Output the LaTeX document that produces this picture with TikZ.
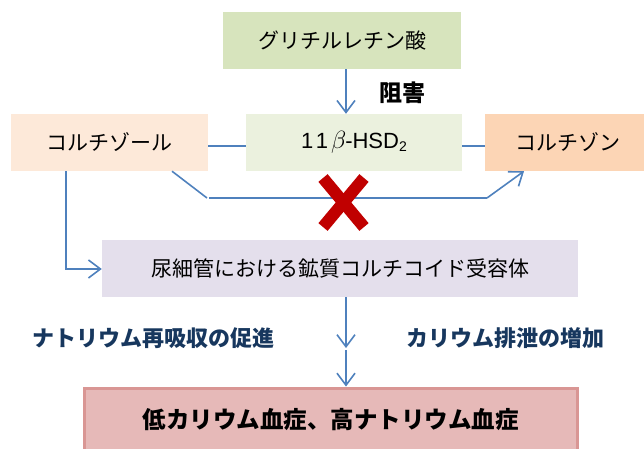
\documentclass[tikz,border=0pt]{standalone}
\usepackage{fontspec}
\setmainfont{Noto Sans CJK JP}
\newfontfamily\arialfont{Liberation Sans}
\usetikzlibrary{arrows.meta}
\definecolor{lineblue}{HTML}{4F81BD}
\definecolor{glyfill}{HTML}{D7E4BD}
\definecolor{hsdfill}{HTML}{EBF1DE}
\definecolor{cortfill}{HTML}{FDE9D9}
\definecolor{conefill}{HTML}{FCD5B5}
\definecolor{recfill}{HTML}{E4DFEC}
\definecolor{botfill}{HTML}{E6B9B8}
\definecolor{botdraw}{HTML}{D99694}
\definecolor{navy}{HTML}{17375E}
\definecolor{xred}{HTML}{C00000}
\tikzset{
  box/.style={rectangle, inner sep=0pt, font=\fontsize{21}{25}\selectfont, text=black},
  conn/.style={draw=lineblue, line width=1.6pt},
  arr/.style={conn, -{Straight Barb[length=12pt,width=18pt,line width=1.6pt]}},
  lbl/.style={font=\fontsize{22}{26}\selectfont\bfseries, text=navy, inner sep=0pt},
}
\begin{document}
\begin{tikzpicture}[x=1pt,y=-1pt]
\useasboundingbox (0,0) rectangle (644,448);
\node[box, fill=glyfill, minimum width=238pt, minimum height=57pt] (gly) at (342,40.5) {グリチルレチン酸};
\node[box, fill=cortfill, minimum width=197pt, minimum height=57pt] (cort) at (109.5,142.5) {コルチゾール};
\node[box, fill=hsdfill, minimum width=216pt, minimum height=57pt, font=\fontsize{22}{26}\selectfont\arialfont] (hsd) at (354,142.5) {1\hspace{2.5pt}1\hspace{3pt}{\fontsize{27}{30}\selectfont$\beta$}\hspace{-1pt}-HSD\raisebox{-3pt}{\fontsize{14}{16}\selectfont 2}};
\node[box, fill=conefill, minimum width=166pt, minimum height=57pt] (cone) at (568,142.5) {コルチゾン};
\node[box, fill=recfill, minimum width=476pt, minimum height=57pt] (rec) at (340,268.5) {尿細管における鉱質コルチコイド受容体};
\node[box, fill=botfill, draw=botdraw, line width=3pt, minimum width=493pt, minimum height=64pt, font=\fontsize{23.5}{27}\selectfont\bfseries] (bot) at (330.5,420) {低カリウム血症、高ナトリウム血症};
\node[box, font=\fontsize{23}{27}\selectfont\bfseries] (inh) at (402,93) {阻害};
\node[lbl] (na) at (153,338) {ナトリウム再吸収の促進};
\node[lbl] (k) at (505,338) {カリウム排泄の増加};
% connectors
\draw[arr] (gly.south -| 346,0) -- (hsd.north -| 346,0);
\draw[conn] (cort.east |- 0,146) -- (hsd.west |- 0,146);
\draw[conn] (hsd.east |- 0,146) -- (cone.west |- 0,146);
\coordinate (d1) at (207,198);
\coordinate (d2) at (209,198);
\coordinate (d3) at (487,198);
\draw[conn] (cort.south -| 172,0) -- (d1);
\draw[conn] (d2) -- (d3);
\draw[arr] (d3) -- (cone.south -| 524,0);
\coordinate (l1) at (66,269);
\draw[arr] (cort.south -| l1) -- (l1) -- (rec.west |- l1);
\coordinate (m1) at (346,348);
\coordinate (m2) at (346,350);
\draw[arr] (rec.south -| m1) -- (m1);
\draw[arr] (m2) -- (bot.north -| m2);
% red cross
\draw[xred, line width=12pt] (323,178) -- (364,227);
\draw[xred, line width=12pt] (364,178) -- (323,227);
\end{tikzpicture}
\end{document}
